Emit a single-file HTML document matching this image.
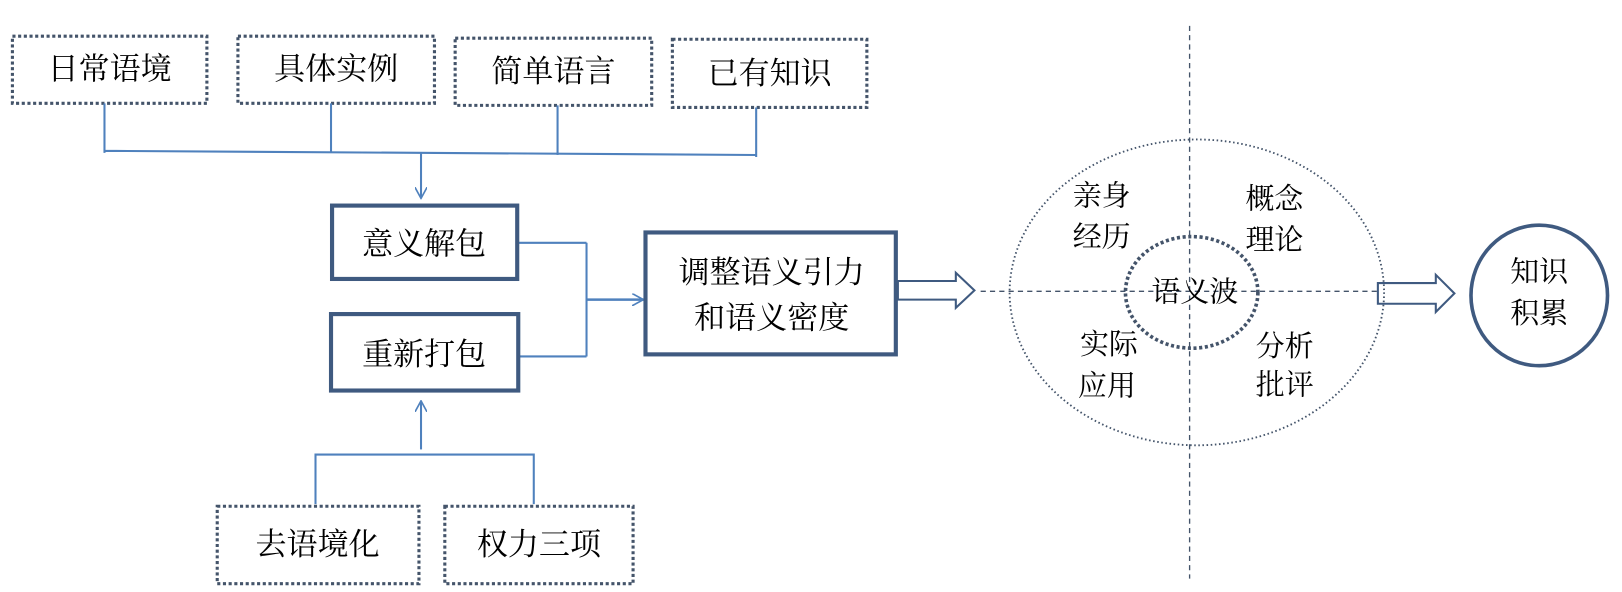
<!DOCTYPE html>
<html><head><meta charset="utf-8"><style>
html,body{margin:0;padding:0;background:#fff;}
svg{display:block}
text{font-family:"Liberation Serif","Noto Serif CJK SC",serif;fill:#000;text-anchor:middle;dominant-baseline:central}
</style></head><body>
<svg width="1622" height="592" viewBox="0 0 1568 573" preserveAspectRatio="none" xmlns="http://www.w3.org/2000/svg">
<defs>
<marker id="oa" viewBox="0 0 12 12" refX="11" refY="6" markerWidth="12" markerHeight="12" markerUnits="userSpaceOnUse" orient="auto">
<path d="M0,0 L11,6 L0,12" fill="none" stroke="#4f81bd" stroke-width="1.6"/>
</marker>
</defs>
<g fill="none" stroke="#44546a" stroke-width="3" stroke-dasharray="3,2.5">
<rect x="12" y="35" width="188" height="65"/>
<rect x="230" y="35" width="190" height="65"/>
<rect x="440" y="37" width="190" height="65"/>
<rect x="650" y="38" width="188" height="66"/>
<rect x="210" y="490" width="195" height="75"/>
<rect x="430" y="490" width="182" height="75"/>
</g>
<g font-size="30">
<text x="106" y="67">日常语境</text>
<text x="325" y="67">具体实例</text>
<text x="535" y="69">简单语言</text>
<text x="744" y="71">已有知识</text>
<text x="307" y="527">去语境化</text>
<text x="521" y="527">权力三项</text>
</g>
<g stroke="#4f81bd" stroke-width="2" fill="none">
<path d="M101,100 V148 M320,100 V148 M539,102 V150 M731,104 V152 M101,146 L731,150"/>
<path d="M407,148 V192" marker-end="url(#oa)"/>
<path d="M500,235 H567 M500,345 H567 M567,235 V345"/>
<path d="M567,290 H622" stroke-width="2.5" marker-end="url(#oa)"/>
<path d="M407,435 V388" marker-end="url(#oa)"/>
<path d="M305,488 V440 H516 V488"/>
</g>
<g fill="none" stroke="#3f5a80" stroke-width="4">
<rect x="321" y="199" width="179" height="71"/>
<rect x="320" y="304" width="181" height="74"/>
<rect x="624" y="225" width="242" height="118"/>
</g>
<g font-size="30">
<text x="410" y="236">意义解包</text>
<text x="410" y="343">重新打包</text>
<text x="746" y="264">调整语义引力</text>
<text x="746" y="308">和语义密度</text>
</g>
<g fill="#fff" stroke="#3f5a80" stroke-width="2">
<path d="M868,272 H924 V264 L942,281 L924,298 V290 H868 Z"/>
<path d="M1332,274 H1388 V266 L1406,284 L1388,302 V294 H1332 Z"/>
</g>
<g fill="none" stroke="#44546a" stroke-width="1.3" stroke-dasharray="5,4">
<path d="M1150,25 V560 M948,282 H1332"/>
</g>
<ellipse cx="1157" cy="283" rx="181" ry="148" fill="none" stroke="#44546a" stroke-width="1.8" stroke-dasharray="1.5,2.5"/>
<ellipse cx="1152" cy="283" rx="64" ry="54" fill="none" stroke="#44546a" stroke-width="3.5" stroke-dasharray="3,2.5"/>
<ellipse cx="1488" cy="286" rx="66" ry="68" fill="none" stroke="#3f5a80" stroke-width="3.5"/>
<g font-size="28">
<text x="1065" y="190">亲身</text>
<text x="1065" y="230">经历</text>
<text x="1232" y="193">概念</text>
<text x="1232" y="233">理论</text>
<text x="1072" y="334">实际</text>
<text x="1070" y="374">应用</text>
<text x="1242" y="336">分析</text>
<text x="1242" y="373">批评</text>
<text x="1155" y="283">语义波</text>
<text x="1488" y="264">知识</text>
<text x="1488" y="304">积累</text>
</g>
</svg>
</body></html>
